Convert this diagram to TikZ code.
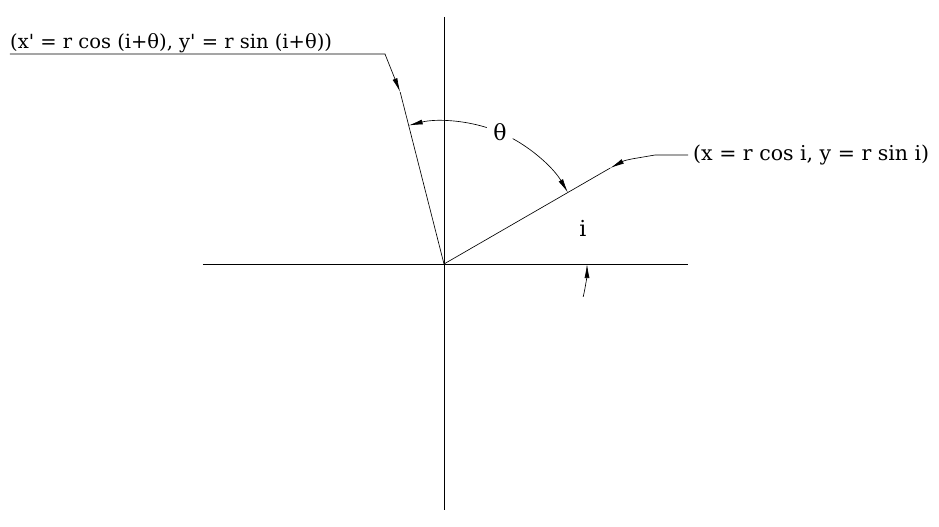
\documentclass[tikz,border=0pt]{standalone}
\usepackage{fontspec}
\setmainfont{DejaVu Serif}[Ligatures=TeXOff]
\usetikzlibrary{arrows.meta,calc}
\begin{document}
\begin{tikzpicture}[x=1pt,y=1pt,
  line/.style={line width=0.8pt},
  thin line/.style={line width=0.65pt},
  tip/.style={-{Latex[length=14pt,width=5pt]}},
  lbl/.style={font=\fontsize{19.5}{22}\selectfont, inner sep=0pt},
  rlbl/.style={font=\fontsize{20.5}{23}\selectfont, inner sep=0pt},
  angle lbl/.style={font=\fontsize{22}{24}\selectfont, inner sep=0pt}]
\useasboundingbox (-444,-263) rectangle (495,264);
\coordinate (O) at (0,0);
% axes
\coordinate (ytop) at (0,247);
\coordinate (ybot) at (0,-246);
\coordinate (xl) at (-241,0);
\coordinate (xr) at (244,0);
\draw[line] (ytop) -- (ybot);
\draw[line] (xl) -- (xr);
% rays
\coordinate (P1) at (30:192);
\coordinate (P2) at (104.3:177.5);
\draw[thin line] (O) -- (P1);
\draw[thin line] (O) -- (P2);
% theta arc
\coordinate (A1) at (72.6:143);
\coordinate (A2) at (61.3:143);
\draw[thin line, tip] (A1) arc[start angle=72.6, end angle=104.3, radius=143];
\draw[thin line, tip] (A2) arc[start angle=61.3, end angle=30, radius=143];
\node[angle lbl] (theta) at (67:143) {θ};
% i arc
\coordinate (I1) at (-13.3:143);
\draw[thin line, tip] (I1) arc[start angle=-13.3, end angle=0, radius=143];
\node[angle lbl] (ilabel) at (139,36) {i};
% left label and leader
\coordinate (L1) at (-59,210);
\coordinate (L2) at (-434,210);
\draw[thin line, tip] (L2) -- (L1) -- (P2);
\node[lbl, anchor=base west] (leftlbl) at (-434,215) {(x' = r cos (i+θ), y' = r sin (i+θ))};
% right label and leader
\coordinate (R1) at (211,109);
\coordinate (R2) at (244,109);
\draw[thin line, tip] (R2) -- (R1) to[out=190,in=28] (P1);
\node[rlbl, anchor=west] (rightlbl) at (249,109) {(x = r cos i, y = r sin i)};
\end{tikzpicture}
\end{document}
